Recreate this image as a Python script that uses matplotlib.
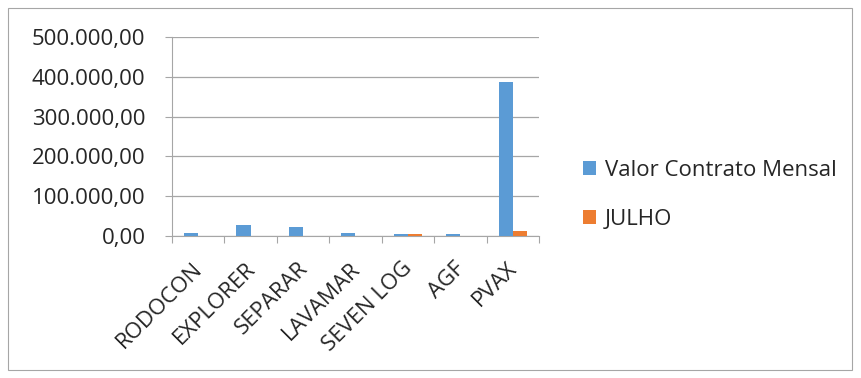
import numpy as np
import matplotlib.pyplot as plt
import matplotlib.transforms as mtransforms
from matplotlib.patches import Rectangle
from matplotlib.ticker import FuncFormatter, FixedLocator

# dados
empresas = ['RODOCON', 'EXPLORER', 'SEPARAR', 'LAVAMAR', 'SEVEN LOG', 'AGF', 'PVAX']
valor_contrato = [7500, 26500, 23000, 7500, 4000, 4000, 388000]
julho = [0, 0, 0, 0, 4000, 0, 13500]

azul = '#5B9BD5'
laranja = '#ED7D31'
texto = '#262626'

plt.rcParams['font.family'] = ['Open Sans', 'DejaVu Sans']

fig = plt.figure(figsize=(8.62, 3.78), dpi=100)
ax = fig.add_axes([172 / 862, 1 - 236 / 378, (539 - 172) / 862, (236 - 37) / 378])

# borda externa do gráfico
fig.patches.append(Rectangle((8 / 862, 8 / 378), 844 / 862, 362 / 378,
                             transform=fig.transFigure, fill=False,
                             edgecolor='#a6a6a6', linewidth=0.8))

x = np.arange(len(empresas))
w = 0.27
ax.bar(x - w / 2, valor_contrato, width=w, color=azul, label='Valor Contrato Mensal', zorder=3)
ax.bar(x + w / 2, julho, width=w, color=laranja, label='JULHO', zorder=3)

ax.set_xlim(-0.5, len(empresas) - 0.5)
ax.set_ylim(0, 500000)
ax.set_yticks(np.arange(0, 500001, 100000))

def fmt_br(v, pos):
    s = f'{v:,.2f}'
    return s.replace(',', 'X').replace('.', ',').replace('X', '.')

ax.yaxis.set_major_formatter(FuncFormatter(fmt_br))
ax.grid(axis='y', color='#a6a6a6', linewidth=0.9, zorder=0)

# ticks entre categorias (estilo Excel)
ax.xaxis.set_major_locator(FixedLocator(np.arange(-0.5, len(empresas))))
ax.tick_params(axis='x', which='major', length=5, color='#a6a6a6', labelbottom=False)
ax.set_xticks(x, minor=True)
ax.set_xticklabels(empresas, minor=True, rotation=45, ha='right', rotation_mode='anchor',
                   fontsize=16, color=texto)
ax.tick_params(axis='x', which='minor', length=0, pad=16)
ax.tick_params(axis='y', length=5, color='#a6a6a6', labelsize=16, labelcolor=texto, pad=14)

# desloca os rótulos um pouco para a esquerda
desloc = mtransforms.ScaledTranslation(-6 / 100, 0, fig.dpi_scale_trans)
for lbl in ax.get_xticklabels(minor=True):
    lbl.set_transform(lbl.get_transform() + desloc)

for side in ['top', 'right']:
    ax.spines[side].set_visible(False)
ax.spines['left'].set_color('#a6a6a6')
ax.spines['bottom'].set_color('#a6a6a6')

ax.legend(loc='center left', bbox_to_anchor=(563 / 862, 1 - 195 / 378), bbox_transform=fig.transFigure,
          frameon=False, fontsize=16, labelspacing=1.25, handlelength=0.6, handleheight=0.6,
          handletextpad=0.4, labelcolor=texto)

fig.savefig('out.png', dpi=100)
